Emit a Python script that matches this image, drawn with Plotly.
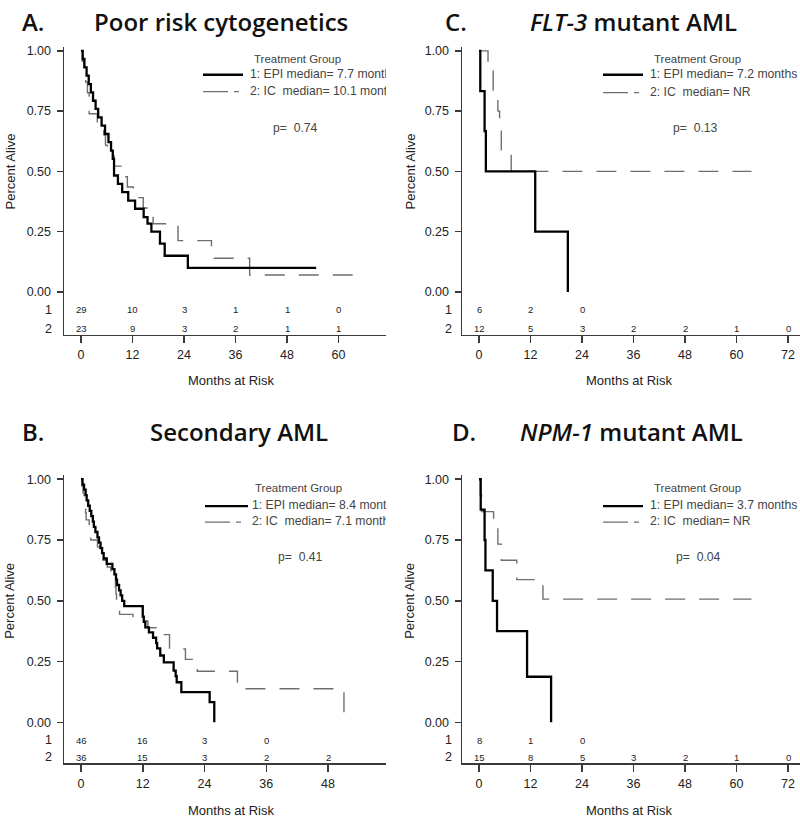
import plotly.graph_objects as go

# ------------------------------------------------------------------ data
x_tick_months = [0, 12, 24, 36, 48, 60, 72]
y_tick_vals = [0, 0.25, 0.5, 0.75, 1.0]
y_tick_text = ["0.00", "0.25", "0.50", "0.75", "1.00"]

# Panel A: Poor risk cytogenetics
A_epi_t = [0, 0.4, 0.8, 1.3, 1.8, 2.3, 2.8, 3.4, 4.0, 4.8, 5.6, 6.4, 7.0, 7.4, 7.7, 8.6, 9.6, 11.0, 12.6, 14.6, 15.5, 16.4, 18.4, 19.5, 24.9, 54.8]
A_epi_s = [1.0, .966, .931, .897, .862, .828, .793, .759, .724, .690, .655, .621, .586, .552, .483, .448, .414, .379, .345, .310, .283, .250, .200, .150, .100, .100]
A_ic_t = [0, 0.3, 0.7, 1.1, 1.5, 1.9, 3.8, 5.3, 5.7, 6.1, 7.7, 10.1, 10.8, 12.2, 14.5, 16.8, 22.6, 30.4, 39.3, 63.3]
A_ic_s = [1.0, .957, .913, .870, .826, .739, .696, .652, .609, .565, .522, .478, .435, .391, .348, .283, .213, .140, .070, .070]
A_risk1 = [29, 10, 3, 1, 1, 0]
A_risk2 = [23, 9, 3, 2, 1, 1]

# Panel C: FLT-3 mutant AML
C_epi_t = [0, 0.3, 1.3, 1.6, 13.1, 20.7]
C_epi_s = [1.0, .833, .667, .500, .250, 0]
C_ic_t = [0, 2.1, 3.3, 4.4, 4.8, 5.2, 7.5, 63.5]
C_ic_s = [1.0, .917, .833, .750, .667, .583, .500, .500]
C_risk1 = [6, 2, 0]
C_risk2 = [12, 5, 3, 2, 2, 1, 0]

# Panel B: Secondary AML
B_epi_t = [0, 0.3, 0.6, 0.9, 1.1, 1.4, 1.7, 2.0, 2.3, 2.5, 2.8, 3.2, 3.5, 3.8, 4.1, 4.4, 5.0, 6.1, 6.5, 6.8,
           7.0, 7.4, 7.7, 8.0, 8.4, 12.0, 12.2, 12.5, 13.2, 14.0, 14.6, 14.8, 15.4, 16.1, 18.0, 18.4, 18.6, 19.5, 25.0, 25.9]
B_epi_s = [1.0, .978, .957, .935, .913, .891, .870, .848, .826, .804, .783, .761, .739, .717, .696, .674, .652, .630, .609, .587,
           .565, .543, .522, .500, .478, .435, .413, .391, .370, .348, .326, .304, .275, .247, .213, .190, .165, .124, .083, 0]
B_ic_t = [0, 0.2, 0.4, 0.6, 0.8, 0.9, 1.0, 1.6, 1.8, 1.9, 3.2, 3.6, 4.3, 5.1, 5.8, 6.3, 6.7, 6.8, 6.9, 7.0,
          7.5, 10.1, 13.0, 14.6, 17.2, 20.3, 22.6, 30.4, 51.1]
B_ic_s = [1.0, .972, .944, .917, .889, .861, .833, .806, .778, .750, .722, .694, .667, .639, .611, .583, .556, .528, .500, .472,
          .444, .417, .389, .361, .302, .259, .210, .138, 0]
B_risk1 = [46, 16, 3, 0]
B_risk2 = [36, 15, 3, 2, 2]

# Panel D: NPM-1 mutant AML
D_epi_t = [0, 0.4, 1.3, 1.5, 3.2, 4.2, 11.2, 16.8]
D_epi_s = [1.0, .875, .750, .625, .500, .375, .1875, 0]
D_ic_t = [0, 0.3, 0.6, 3.4, 4.4, 5.2, 8.8, 14.9, 63.5]
D_ic_s = [1.0, .933, .867, .800, .733, .667, .587, .507, .507]
D_risk1 = [8, 1, 0]
D_risk2 = [15, 8, 5, 3, 2, 1, 0]

# ------------------------------------------------------------------ layout geometry (pixels)
W, H = 800, 817
TICK_FONT = "Liberation Sans, Arial, sans-serif"
TITLE_FONT = "Open Sans, Lato, sans-serif"
AXIS_COL = "#3a3a3a"
TXT_COL = "#222222"
LEG_COL = "#444444"

panels = [
    dict(ax="", letter="A.", title="Poor risk cytogenetics", title_x=92, letter_x=20, title_y=0, title_anchor="top",
         xl=64, xr=386, x0=81, ppm=51.5 / 12, ytop=44, ybot=333, s0=290, s1=48,
         epi=(A_epi_t, A_epi_s), ic=(A_ic_t, A_ic_s), r1=A_risk1, r2=A_risk2,
         r1y=308, r2y=327, rowlab_x=48, ptitle_x=10, xtitle_x=231, xtitle_y=379,
         leg=dict(tg=(254, 57), l1=72, l2=89, lx0=203, lx1=243, tx=250, p=(273, 126)),
         med1="1: EPI median= 7.7 months", med2="2: IC  median= 10.1 months", pval="p=  0.74"),
    dict(ax="2", letter="C.", title="<i>FLT-3</i> mutant AML", title_x=528, letter_x=443, title_y=0, title_anchor="top",
         xl=462, xr=800, x0=479, ppm=51.5 / 12, ytop=44, ybot=333, s0=290, s1=48,
         epi=(C_epi_t, C_epi_s), ic=(C_ic_t, C_ic_s), r1=C_risk1, r2=C_risk2,
         r1y=308, r2y=327, rowlab_x=448, ptitle_x=410, xtitle_x=629, xtitle_y=379,
         leg=dict(tg=(654, 57), l1=72, l2=90, lx0=603, lx1=643, tx=650, p=(673, 126)),
         med1="1: EPI median= 7.2 months", med2="2: IC  median= NR", pval="p=  0.13"),
    dict(ax="3", letter="B.", title="Secondary AML", title_x=148, letter_x=20, title_y=430, title_anchor="middle",
         xl=64, xr=386, x0=81, ppm=247 / 48, ytop=474, ybot=763, s0=722, s1=478,
         epi=(B_epi_t, B_epi_s), ic=(B_ic_t, B_ic_s), r1=B_risk1, r2=B_risk2,
         r1y=740, r2y=757, rowlab_x=48, ptitle_x=10, xtitle_x=231, xtitle_y=810,
         leg=dict(tg=(255, 488), l1=505, l2=521, lx0=205, lx1=248, tx=252, p=(278, 557)),
         med1="1: EPI median= 8.4 months", med2="2: IC  median= 7.1 months", pval="p=  0.41"),
    dict(ax="4", letter="D.", title="<i>NPM-1</i> mutant AML", title_x=518, letter_x=450, title_y=430, title_anchor="middle",
         xl=462, xr=800, x0=479, ppm=51.5 / 12, ytop=474, ybot=763, s0=722, s1=478,
         epi=(D_epi_t, D_epi_s), ic=(D_ic_t, D_ic_s), r1=D_risk1, r2=D_risk2,
         r1y=740, r2y=757, rowlab_x=448, ptitle_x=410, xtitle_x=629, xtitle_y=810,
         leg=dict(tg=(654, 488), l1=505, l2=521, lx0=603, lx1=643, tx=650, p=(676, 557)),
         med1="1: EPI median= 3.7 months", med2="2: IC  median= NR", pval="p=  0.04"),
]

fig = go.Figure()
annotations = []
shapes = []
layout_axes = {}


def py2paper(py):
    return 1 - py / H


for P in panels:
    ax = P["ax"]
    xa, ya = "x" + ax, "y" + ax
    mx = lambda px, P=P: (px - P["x0"]) / P["ppm"]
    sy = lambda py, P=P: (P["s0"] - py) / (P["s0"] - P["s1"])

    layout_axes["xaxis" + ax] = dict(
        domain=[P["xl"] / W, P["xr"] / W], anchor=ya,
        range=[mx(P["xl"]), mx(P["xr"])],
        tickmode="array", tickvals=x_tick_months, ticktext=[str(v) for v in x_tick_months],
        ticks="outside", ticklen=7, tickwidth=1.5, tickcolor=AXIS_COL,
        showline=True, linecolor=AXIS_COL, linewidth=1.5, showgrid=False, zeroline=False,
        tickfont=dict(family=TICK_FONT, size=12.5, color=TXT_COL), ticklabelstandoff=1,
        fixedrange=True,
    )
    layout_axes["yaxis" + ax] = dict(
        domain=[py2paper(P["ybot"]), py2paper(P["ytop"])], anchor=xa,
        range=[sy(P["ybot"]), sy(P["ytop"])],
        tickmode="array", tickvals=y_tick_vals, ticktext=y_tick_text,
        ticks="outside", ticklen=6, tickwidth=1.5, tickcolor=AXIS_COL,
        showline=True, linecolor=AXIS_COL, linewidth=1.5, showgrid=False, zeroline=False,
        tickfont=dict(family=TICK_FONT, size=12.5, color=TXT_COL), ticklabelstandoff=3,
        fixedrange=True,
    )

    # survival curves
    fig.add_trace(go.Scatter(x=P["ic"][0], y=P["ic"][1], mode="lines", line_shape="hv",
                             line=dict(color="#6e6e6e", width=1.4, dash="20px,14px"),
                             xaxis=xa, yaxis=ya, showlegend=False, hoverinfo="skip"))
    fig.add_trace(go.Scatter(x=P["epi"][0], y=P["epi"][1], mode="lines", line_shape="hv",
                             line=dict(color="#000000", width=2.3),
                             xaxis=xa, yaxis=ya, showlegend=False, hoverinfo="skip"))

    # legend block as clipped text inside plot area
    L = P["leg"]
    fig.add_trace(go.Scatter(
        x=[mx(L["tg"][0])], y=[sy(L["tg"][1])],
        mode="text", text=["Treatment Group"], textposition="middle right", cliponaxis=True,
        textfont=dict(family=TICK_FONT, size=11.5, color=LEG_COL),
        xaxis=xa, yaxis=ya, showlegend=False, hoverinfo="skip"))
    fig.add_trace(go.Scatter(
        x=[mx(L["tx"]), mx(L["tx"]), mx(L["p"][0])],
        y=[sy(L["l1"]), sy(L["l2"]), sy(L["p"][1])],
        mode="text", text=[P["med1"], P["med2"], P["pval"]],
        textposition="middle right", cliponaxis=True,
        textfont=dict(family=TICK_FONT, size=12.2, color=LEG_COL),
        xaxis=xa, yaxis=ya, showlegend=False, hoverinfo="skip"))

    shapes.append(dict(type="line", xref="paper", yref="paper",
                       x0=L["lx0"] / W, x1=L["lx1"] / W, y0=py2paper(L["l1"]), y1=py2paper(L["l1"]),
                       line=dict(color="#000000", width=2.3)))
    shapes.append(dict(type="line", xref="paper", yref="paper",
                       x0=L["lx0"] / W, x1=L["lx1"] / W, y0=py2paper(L["l2"]), y1=py2paper(L["l2"]),
                       line=dict(color="#6e6e6e", width=1.3, dash="25px,6px,5px,200px")))

    # numbers at risk
    for row, vals, ry in (("1", P["r1"], P["r1y"]), ("2", P["r2"], P["r2y"])):
        annotations.append(dict(x=P["rowlab_x"] / W, y=py2paper(ry), xref="paper", yref="paper",
                                text=row, showarrow=False, xanchor="center", yanchor="middle",
                                font=dict(family=TICK_FONT, size=12.5, color=TXT_COL)))
        for m, v in zip(x_tick_months, vals):
            annotations.append(dict(x=m, y=sy(ry), xref=xa, yref=ya, text=str(v), showarrow=False,
                                    xanchor="center", yanchor="middle",
                                    font=dict(family=TICK_FONT, size=9.5, color=TXT_COL)))

    # axis titles
    annotations.append(dict(x=P["ptitle_x"] / W, y=py2paper((P["s0"] + P["s1"]) / 2), xref="paper", yref="paper",
                            text="Percent Alive", textangle=-90, showarrow=False,
                            xanchor="center", yanchor="middle",
                            font=dict(family=TICK_FONT, size=13, color=TXT_COL)))
    annotations.append(dict(x=P["xtitle_x"] / W, y=py2paper(P["xtitle_y"]), xref="paper", yref="paper",
                            text="Months at Risk", showarrow=False, xanchor="center", yanchor="middle",
                            font=dict(family=TICK_FONT, size=13, color=TXT_COL)))

    # panel titles
    for tx_, txt in ((P["letter_x"], P["letter"]), (P["title_x"], P["title"])):
        annotations.append(dict(x=tx_ / W, y=py2paper(P["title_y"]), xref="paper", yref="paper",
                                text=txt, showarrow=False, xanchor="left", yanchor=P["title_anchor"],
                                font=dict(family=TITLE_FONT, size=24, color="#111111", weight=600)))

fig.update_layout(
    width=W, height=H, autosize=False,
    margin=dict(l=0, r=0, t=0, b=0, pad=0),
    paper_bgcolor="white", plot_bgcolor="white",
    showlegend=False,
    annotations=annotations, shapes=shapes,
    **layout_axes,
)

fig.write_html("out.html", config={"displayModeBar": False, "staticPlot": True},
               post_script="document.body.style.margin='0px';")
